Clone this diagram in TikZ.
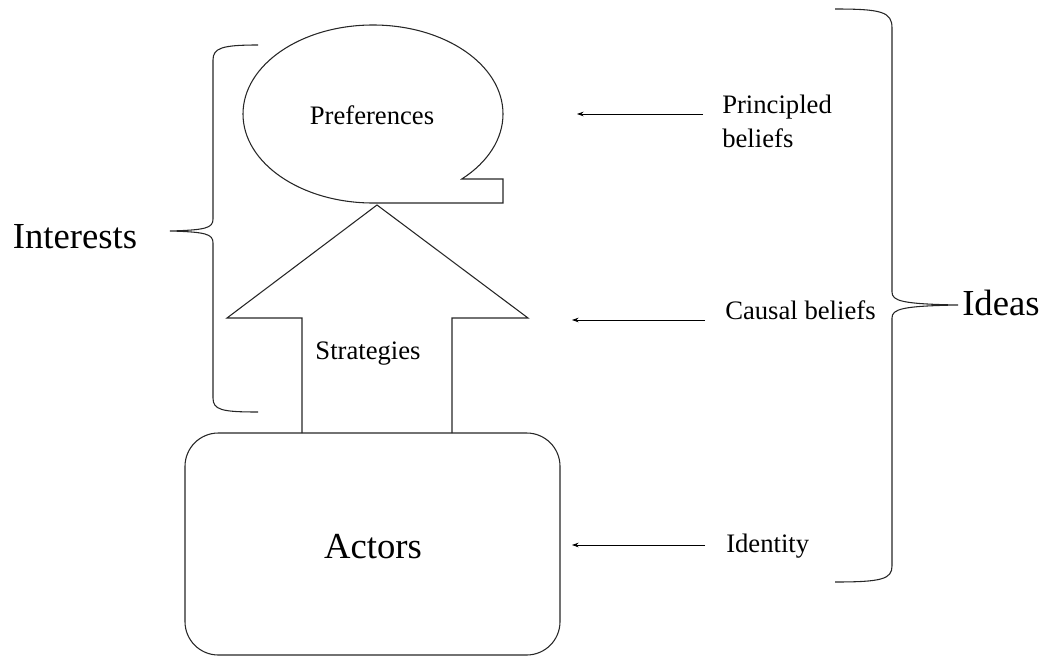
\documentclass[tikz,border=0pt]{standalone}
\usepackage{fontspec}
\setmainfont{Liberation Serif}
\usetikzlibrary{arrows.meta}
\begin{document}
\begin{tikzpicture}[x=0.75pt,y=0.75pt,
  shape line/.style={line width=0.8pt,draw=black!85},
  brace line/.style={line width=0.8pt,draw=black!85},
  pointer/.style={line width=0.6pt,-{Stealth[length=5pt,width=3.5pt]}},
  small text/.style={font=\fontsize{20}{20.5}\selectfont,inner sep=0pt},
  big text/.style={font=\fontsize{27.5}{30}\selectfont,inner sep=0pt}]
\useasboundingbox (0,0) rectangle (1044,-656);
% Preferences (ellipse with tab)
\draw[shape line] (373,-203) arc[start angle=-90,end angle=-406.9,x radius=97.5pt,y radius=66.75pt]
  -- (503,-179) -- (503,-203) -- cycle;
\node[small text,anchor=base] (pref) at (372,-125) {Preferences};
% Strategies (arrow)
\draw[shape line] (302,-433) -- (302,-318) -- (227,-318) -- (377,-205) -- (528,-318) -- (452,-318) -- (452,-433);
\node[small text,anchor=base] (strat) at (368,-359) {Strategies};
% Actors
\draw[shape line,rounded corners=25pt] (185,-433) rectangle (560,-655);
\node[big text,anchor=base] (actors) at (373,-558) {Actors};
% Interests brace
\draw[brace line] (258,-45) .. controls (222,-45) and (213,-48) .. (213,-60) -- (213,-219)
  .. controls (213,-228) and (206,-230) .. (170,-231)
  .. controls (206,-232) and (213,-234) .. (213,-243) -- (213,-398)
  .. controls (213,-410) and (222,-412) .. (258,-412);
\node[big text,anchor=base] (interests) at (75,-248) {Interests};
% Ideas brace
\draw[brace line] (835,-9) .. controls (882,-9) and (892,-12) .. (892,-28) -- (892,-292)
  .. controls (892,-301) and (902,-304) .. (958,-305)
  .. controls (902,-306) and (892,-309) .. (892,-318) -- (892,-566)
  .. controls (892,-579) and (882,-582) .. (835,-582);
\node[big text,anchor=base west] (ideas) at (962,-315) {Ideas};
% Right-hand labels
\node[small text,anchor=base west] (prin1) at (722,-114) {Principled};
\node[small text,anchor=base west] (prin2) at (722,-147) {beliefs};
\node[small text,anchor=base west] (causal) at (725,-319) {Causal beliefs};
\node[small text,anchor=base west] (ident) at (726,-552) {Identity};
% Pointers
\coordinate (pA) at (703,-114); \coordinate (pB) at (577,-114);
\coordinate (cA) at (705,-320); \coordinate (cB) at (572,-320);
\coordinate (iA) at (705,-545); \coordinate (iB) at (572,-545);
\draw[pointer] (pA) -- (pB);
\draw[pointer] (cA) -- (cB);
\draw[pointer] (iA) -- (iB);
\end{tikzpicture}
\end{document}
